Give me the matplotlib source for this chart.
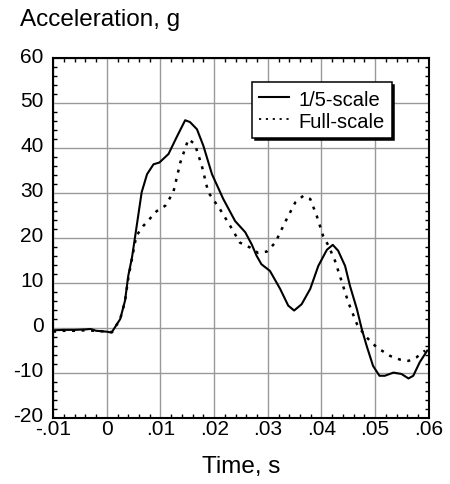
import matplotlib
matplotlib.use("Agg")
import matplotlib.pyplot as plt
from matplotlib.ticker import MultipleLocator, FuncFormatter
from matplotlib.transforms import ScaledTranslation

plt.rcParams['font.family'] = ['Liberation Sans', 'DejaVu Sans']
plt.rcParams['axes.unicode_minus'] = False

# 1/5-scale model crash pulse
t_model = [-0.010, -0.008, -0.006, -0.004, -0.003, -0.002, 0.000, 0.0009, 0.0025, 0.0034,
           0.004, 0.0047, 0.0053, 0.0065, 0.0075, 0.0087, 0.0098, 0.0115, 0.013, 0.0146,
           0.0155, 0.0168, 0.018, 0.0196, 0.0217, 0.0239, 0.0258, 0.027, 0.0279, 0.0288,
           0.0304, 0.0323, 0.0338, 0.0349, 0.0363, 0.0379, 0.0394, 0.041, 0.0421, 0.0431,
           0.0444, 0.0453, 0.0466, 0.0475, 0.0484, 0.0496, 0.0508, 0.0518, 0.0534, 0.0549,
           0.0562, 0.0571, 0.0583, 0.0597]
a_model = [-0.5, -0.4, -0.4, -0.3, -0.2, -0.6, -0.8, -1.0, 2.0, 6.1,
           11.6, 15.7, 20.5, 30.2, 34.2, 36.4, 36.8, 38.7, 42.4, 46.2,
           45.8, 44.2, 40.5, 34.2, 28.7, 23.8, 21.3, 18.6, 16.1, 14.2,
           12.7, 8.7, 5.0, 3.9, 5.3, 8.7, 13.8, 17.4, 18.5, 17.2,
           13.8, 9.4, 4.2, -0.2, -3.9, -8.4, -10.6, -10.6, -9.9, -10.2,
           -11.2, -10.6, -7.6, -5.0]

# Full-scale vehicle crash pulse
t_full = [-0.010, -0.008, -0.006, -0.004, -0.002, 0.000, 0.001, 0.0025, 0.0034, 0.004,
          0.0047, 0.0055, 0.0068, 0.0093, 0.0109, 0.0124, 0.0137, 0.0152, 0.0164, 0.0177,
          0.0189, 0.0211, 0.023, 0.0248, 0.0267, 0.0282, 0.0298, 0.0314, 0.0332, 0.0351,
          0.0366, 0.0379, 0.0391, 0.0403, 0.0413, 0.0425, 0.0438, 0.045, 0.0466, 0.0481,
          0.0503, 0.0528, 0.0546, 0.0562, 0.0577, 0.0593]
a_full = [-0.8, -0.6, -0.6, -0.5, -0.6, -0.8, -0.9, 2.0, 6.0, 11.0,
          15.5, 20.5, 22.7, 26.0, 27.2, 30.2, 36.8, 42.0, 40.9, 36.1,
          30.2, 26.4, 22.7, 19.0, 17.9, 16.7, 17.0, 19.0, 23.5, 27.9,
          29.4, 28.7, 25.0, 20.5, 18.3, 15.0, 10.2, 5.7, 0.9, -1.7,
          -4.3, -6.2, -7.0, -7.3, -6.5, -5.0]

x_ticks = [-0.01, 0.0, 0.01, 0.02, 0.03, 0.04, 0.05, 0.06]
y_ticks = [-20, -10, 0, 10, 20, 30, 40, 50, 60]


def short_decimal(v, pos=None):
    if abs(v) < 1e-9:
        return "0"
    s = f"{v:.2f}"
    return s.replace("0.", ".")


fig = plt.figure(figsize=(4.5, 4.85), dpi=100)
ax = fig.add_axes([0.118, 0.136, 0.835, 0.742])

ax.plot(t_model, a_model, color='black', lw=1.5, label='1/5-scale', zorder=3,
        solid_joinstyle='round')
ax.plot(t_full, a_full, color='black', lw=1.8, linestyle=(0, (1.2, 2.6)),
        label='Full-scale', zorder=3)

ax.set_xlim(-0.01, 0.06)
ax.set_ylim(-20, 60)
ax.set_xticks(x_ticks)
ax.set_yticks(y_ticks)
ax.xaxis.set_minor_locator(MultipleLocator(0.002))
ax.yaxis.set_minor_locator(MultipleLocator(2))
ax.xaxis.set_major_formatter(FuncFormatter(short_decimal))
ax.grid(True, which='major', color='#999999', lw=1.0, zorder=0)
ax.tick_params(which='both', direction='in', top=True, right=True, labelsize=15,
               color='black')
ax.tick_params(which='major', length=0)
ax.tick_params(which='minor', length=3, width=1)
ax.tick_params(axis='x', which='major', pad=0.5)
ax.tick_params(axis='y', which='major', pad=7)
for sp in ax.spines.values():
    sp.set_linewidth(1.5)

# y labels sit slightly above their gridlines
lift = ScaledTranslation(0, 3 / 72, fig.dpi_scale_trans)
for lab in ax.get_yticklabels():
    lab.set_transform(lab.get_transform() + lift)

leg = ax.legend(loc='upper right', bbox_to_anchor=(0.901, 0.9325), fontsize=14.5,
                frameon=True, fancybox=False, shadow={'color': 'black', 'alpha': 1},
                handlelength=1.5, handletextpad=0.45, borderpad=0.35,
                labelspacing=0.15, borderaxespad=0)
leg.get_frame().set_edgecolor('black')
leg.get_frame().set_linewidth(1.1)
leg.get_lines()[1].set_linewidth(1.3)

fig.text(0.045, 0.958, 'Acceleration, g', fontsize=17.5, ha='left', va='center')
fig.text(0.535, 0.037, 'Time, s', fontsize=17.5, ha='center', va='center')

fig.savefig('out.png', dpi=100)
